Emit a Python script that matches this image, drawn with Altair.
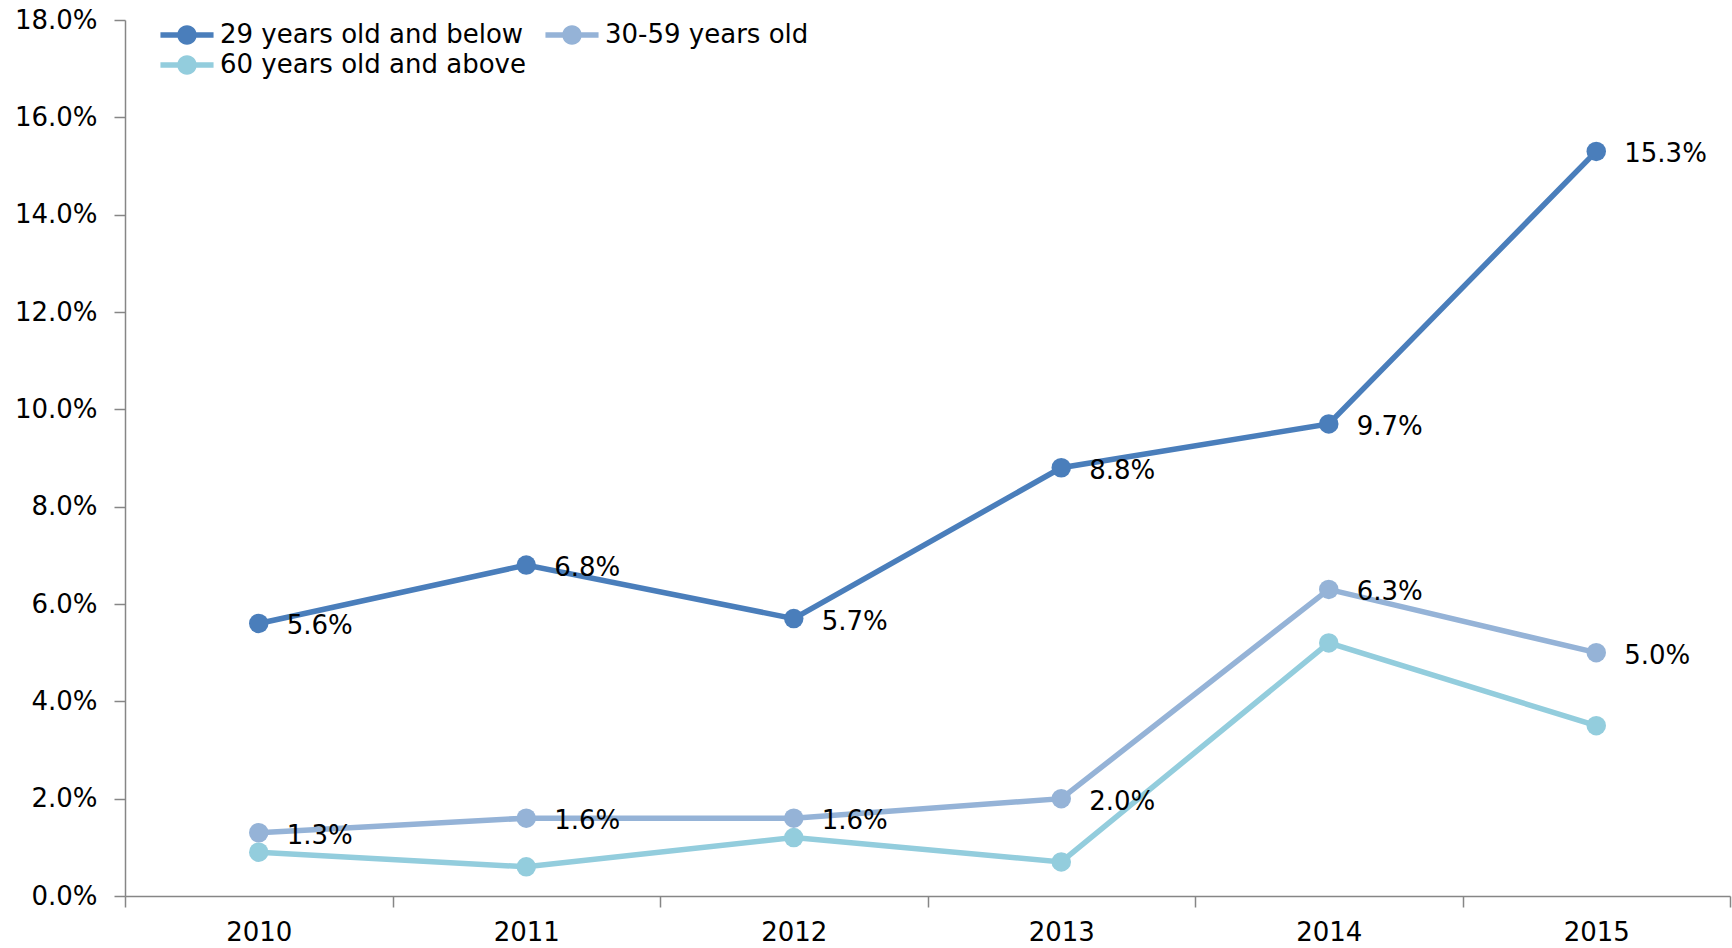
import altair as alt
import pandas as pd

years = ["2010", "2011", "2012", "2013", "2014", "2015"]
series_names = ["29 years old and below", "30-59 years old", "60 years old and above"]
young = [5.6, 6.8, 5.7, 8.8, 9.7, 15.3]
middle = [1.3, 1.6, 1.6, 2.0, 6.3, 5.0]
senior = [0.9, 0.6, 1.2, 0.7, 5.2, 3.5]
labelled = [True, True, False]
colors = ["#4A7EBB", "#95B3D7", "#93CDDD"]
y_ticks = [0, 2, 4, 6, 8, 10, 12, 14, 16, 18]

rows = []
for name, vals, lab in zip(series_names, [young, middle, senior], labelled):
    for yr, v in zip(years, vals):
        rows.append({"year": yr, "series": name, "line_series": name, "value": v,
                     "label": f"{v:.1f}%" if lab else ""})
df = pd.DataFrame(rows)

FONT = "DejaVu Sans"
FS = 26
# legend glyph: a line with a dot, wider than the nominal symbol box
legend_path = ("M-1.77,-0.18 L1.77,-0.18 L1.77,0.18 L-1.77,0.18 Z "
               "M0.65,0 A0.65,0.65 0 1,1 -0.65,0 A0.65,0.65 0 1,1 0.65,0 Z")

x_enc = alt.X("year:O", sort=years,
              scale=alt.Scale(type="band", paddingInner=0, paddingOuter=0),
              axis=alt.Axis(title=None, labelAngle=0, tickBand="extent",
                            labelFont=FONT, labelFontSize=FS, labelColor="black",
                            labelPadding=12, tickSize=11, tickColor="#868686",
                            domainColor="#868686", domainWidth=1.5, tickWidth=1.5,
                            grid=False))
y_enc = alt.Y("value:Q", scale=alt.Scale(domain=[0, 18], nice=False),
              axis=alt.Axis(title=None, values=y_ticks,
                            labelExpr="format(datum.value, '.1f') + '%'",
                            labelFont=FONT, labelFontSize=FS, labelColor="black",
                            labelPadding=17, tickSize=11, tickColor="#868686",
                            domainColor="#868686", domainWidth=1.5, tickWidth=1.5,
                            grid=False))

# stroke scale gets its domain from its own field (alphabetical == series order)
lines = alt.Chart(df).mark_line(strokeWidth=5.5).encode(
    x=x_enc, y=y_enc,
    stroke=alt.Stroke("line_series:N", scale=alt.Scale(range=colors), legend=None),
    detail="line_series:N",
)

points = alt.Chart(df).mark_point(filled=True, size=380, opacity=1).encode(
    x=x_enc, y=y_enc,
    color=alt.Color("series:N", scale=alt.Scale(domain=series_names, range=colors),
                    legend=alt.Legend(title=None, orient="none", legendX=47, legendY=0,
                                      columns=2, direction="horizontal",
                                      symbolType=legend_path,
                                      symbolSize=900, symbolStrokeWidth=0,
                                      symbolOpacity=1,
                                      labelFont=FONT, labelFontSize=FS,
                                      labelColor="black", labelOffset=18,
                                      columnPadding=19, rowPadding=2,
                                      padding=0, labelLimit=600)),
)

labels = alt.Chart(df).mark_text(align="left", baseline="middle", dx=28, dy=3,
                                 font=FONT, fontSize=FS, color="black").encode(
    x=x_enc, y=y_enc, text="label:N",
)

chart = alt.layer(lines, points, labels).properties(
    width=1605, height=876,
    autosize=alt.AutoSizeParams(type="none"),
    padding={"left": 125, "top": 20, "right": 2, "bottom": 52},
).configure(background="white").configure_view(stroke=None)

chart.save("out.html", embed_options={"renderer": "svg", "actions": False})
